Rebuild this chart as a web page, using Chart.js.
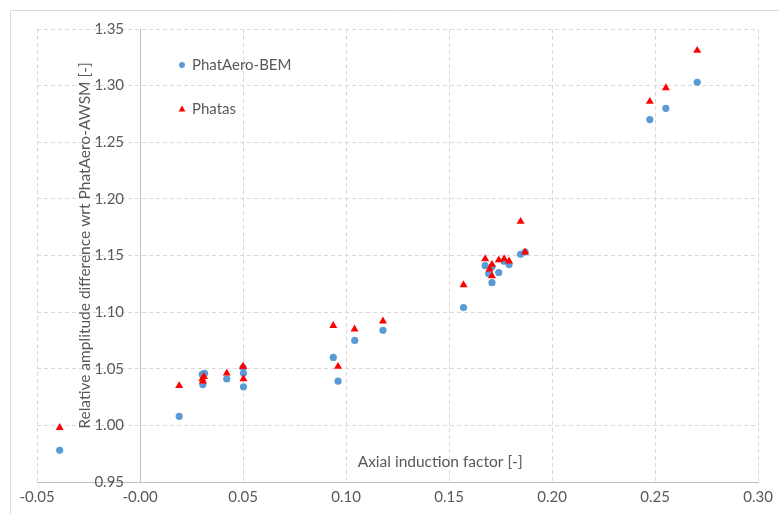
<!DOCTYPE html>
<html><head><meta charset="utf-8">
<script src="https://cdn.jsdelivr.net/npm/chart.js@4.4.0/dist/chart.umd.min.js"></script>
<style>html,body{margin:0;padding:0;background:#fff;}#wrap{width:779px;height:514px;position:relative;}</style>
</head><body><div id="wrap"><canvas id="c"></canvas></div>
<script>
const seriesNames = ['PhatAero-BEM', 'Phatas'];
const xTitle = 'Axial induction factor [-]';
const yTitle = 'Relative amplitude difference wrt PhatAero-AWSM [-]';
const xMin = -0.05, xMax = 0.30, yMin = 0.95, yMax = 1.35, tickStep = 0.05;

const bemX = [-0.039, 0.019, 0.0302, 0.0313, 0.0305, 0.0421, 0.0500, 0.0502, 0.0502, 0.0938, 0.0961, 0.1042, 0.1179, 0.1570, 0.1675, 0.1692, 0.1708, 0.1708, 0.1741, 0.1767, 0.1791, 0.1847, 0.1869, 0.2474, 0.2552, 0.2704];
const bemY = [0.978, 1.008, 1.045, 1.046, 1.036, 1.041, 1.051, 1.046, 1.034, 1.060, 1.039, 1.075, 1.084, 1.104, 1.141, 1.134, 1.126, 1.140, 1.135, 1.145, 1.142, 1.151, 1.153, 1.270, 1.280, 1.303];
const phatasX = [-0.039, 0.019, 0.0302, 0.0310, 0.0305, 0.0421, 0.0500, 0.0500, 0.0502, 0.0938, 0.0961, 0.1041, 0.1179, 0.1570, 0.1675, 0.1696, 0.1708, 0.1708, 0.1741, 0.1767, 0.1791, 0.1847, 0.1869, 0.2474, 0.2552, 0.2704];
const phatasY = [0.998, 1.035, 1.041, 1.043, 1.039, 1.046, 1.052, 1.052, 1.041, 1.088, 1.052, 1.085, 1.092, 1.124, 1.147, 1.138, 1.132, 1.142, 1.146, 1.147, 1.145, 1.180, 1.153, 1.286, 1.298, 1.331];

const toPts = (xs, ys) => xs.map((x, i) => ({x: x, y: ys[i]}));
const FONT = 'Lato';
const TXT = '#595959';

const extras = {
  id: 'extras',
  beforeDraw(chart) {
    const ctx = chart.ctx;
    ctx.save();
    ctx.fillStyle = '#fff';
    ctx.fillRect(0, 0, chart.width, chart.height);
    ctx.strokeStyle = '#D9D9D9';
    ctx.lineWidth = 1;
    ctx.beginPath();
    ctx.moveTo(10.5, chart.height);
    ctx.lineTo(10.5, 10.5);
    ctx.lineTo(chart.width, 10.5);
    ctx.stroke();
    ctx.restore();
    // push y tick labels away from the axis line at x = 0
    const ys = chart.scales.y;
    const items = ys.getLabelItems(chart.chartArea);
    if (!items._shifted) {
      items.forEach(it => { it.options.translation[0] -= 16; });
      items._shifted = true;
    }
  },
  afterDraw(chart) {
    const ctx = chart.ctx;
    const a = chart.chartArea;
    ctx.save();
    ctx.fillStyle = TXT;
    ctx.font = '15.5px ' + FONT;
    ctx.textBaseline = 'middle';
    ctx.textAlign = 'center';
    ctx.fillText(xTitle, a.left + (a.right - a.left) * 0.559, a.bottom - 20);
    // y title
    ctx.save();
    ctx.translate(85, a.top + (a.bottom - a.top) * 0.478);
    ctx.rotate(-Math.PI / 2);
    ctx.fillText(yTitle, 0, 0);
    ctx.restore();
    // legend
    ctx.font = '15px ' + FONT;
    ctx.textAlign = 'left';
    const lx = a.left + 145, ly = [a.top + 36, a.top + 80];
    chart.data.datasets.forEach((ds, i) => {
      ctx.fillStyle = ds.backgroundColor;
      ctx.beginPath();
      if (ds.pointStyle === 'triangle') {
        const r = 3.6;
        ctx.moveTo(lx, ly[i] - r);
        ctx.lineTo(lx + r * 0.95, ly[i] + r * 0.7);
        ctx.lineTo(lx - r * 0.95, ly[i] + r * 0.7);
        ctx.closePath();
      } else {
        ctx.arc(lx, ly[i], 3, 0, Math.PI * 2);
      }
      ctx.fill();
      ctx.fillStyle = TXT;
      ctx.fillText(ds.label, lx + 10, ly[i]);
    });
    ctx.restore();
  }
};

new Chart(document.getElementById('c'), {
  type: 'scatter',
  data: {
    datasets: [
      {label: seriesNames[0], data: toPts(bemX, bemY), pointStyle: 'circle', pointRadius: 3.6, pointHoverRadius: 3.6, backgroundColor: '#5B9BD5', borderWidth: 0, order: 1},
      {label: seriesNames[1], data: toPts(phatasX, phatasY), pointStyle: 'triangle', pointRadius: 4.6, pointHoverRadius: 4.6, backgroundColor: '#FF0000', borderWidth: 0, order: 0}
    ]
  },
  options: {
    responsive: true,
    maintainAspectRatio: false,
    animation: false,
    layout: {padding: {left: 37, right: 13, top: 29, bottom: 2}},
    plugins: {legend: {display: false}, tooltip: {enabled: false}},
    scales: {
      x: {
        type: 'linear', position: 'bottom', min: xMin, max: xMax,
        ticks: {stepSize: tickStep, padding: 6, color: TXT, font: {family: FONT, size: 15}, callback: v => v.toFixed(2)},
        grid: {color: '#D9D9D9', drawTicks: false, lineWidth: 1},
        border: {display: true, color: '#BFBFBF', width: 1, dash: [4, 3]}
      },
      y: {
        type: 'linear', position: {x: 0}, min: yMin, max: yMax,
        ticks: {stepSize: tickStep, padding: 0, color: TXT, font: {family: FONT, size: 15}, callback: v => v.toFixed(2)},
        grid: {color: '#D9D9D9', drawTicks: false, lineWidth: 1},
        border: {display: true, color: '#BFBFBF', width: 1, dash: [4, 3]},
        title: {display: false}
      }
    }
  },
  plugins: [extras]
});
</script></body></html>
